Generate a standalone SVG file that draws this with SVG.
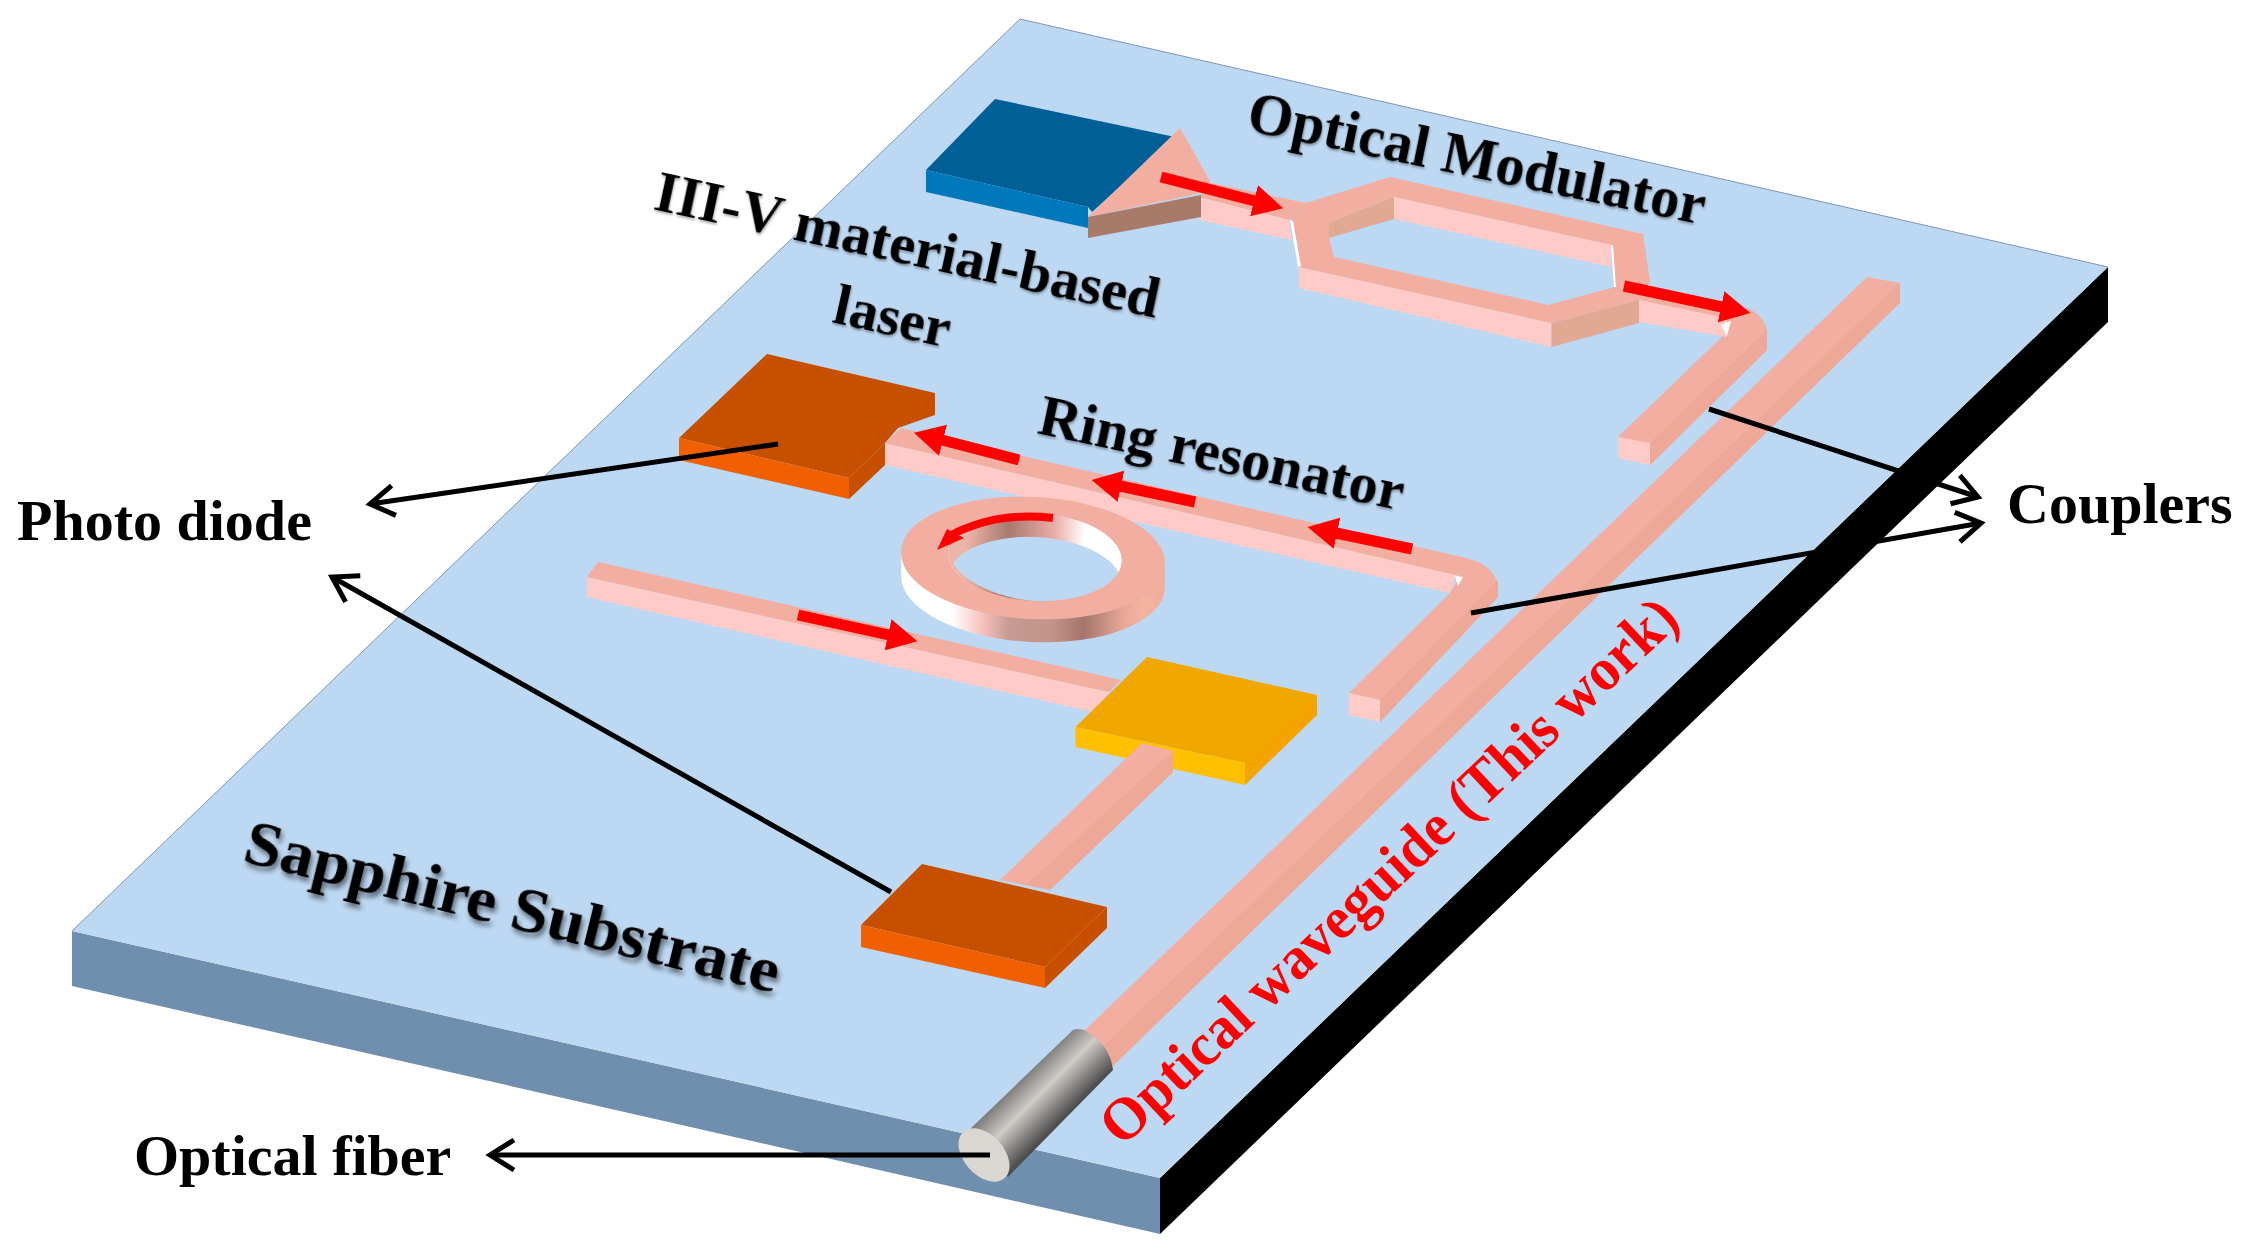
<svg xmlns="http://www.w3.org/2000/svg" width="2246" height="1253" viewBox="0 0 2246 1253">
<style>
.t{fill:#F1AEA1}.s{fill:#FFCBC8}.d{fill:#E1A893}.e{fill:#EEA897}
.lb{font-family:"Liberation Serif","Times New Roman",serif;font-weight:bold;font-size:58px;fill:#000}
.red{stroke:#F00;stroke-width:11;fill:none;marker-end:url(#rh)}
.blk{stroke:#000;stroke-width:5;fill:none;marker-end:url(#bh)}
</style>
<defs>
<marker id="rh" markerUnits="userSpaceOnUse" markerWidth="31" markerHeight="34" refX="1" refY="17" orient="auto"><path d="M0 1L30 17L0 33Z" fill="#F00"/></marker>
<marker id="bh" markerUnits="userSpaceOnUse" markerWidth="36" markerHeight="40" refX="30" refY="20" orient="auto"><path d="M6 5L30 20L6 35" fill="none" stroke="#000" stroke-width="5"/></marker>
<linearGradient id="ro" gradientUnits="userSpaceOnUse" x1="901" y1="0" x2="1165" y2="0"><stop offset="0.2" stop-color="#fff"/><stop offset="0.32" stop-color="#F6C0BC"/><stop offset="0.42" stop-color="#C49A92"/><stop offset="0.58" stop-color="#C49488"/><stop offset="0.7" stop-color="#A5756C"/><stop offset="0.85" stop-color="#E8A898"/><stop offset="0.92" stop-color="#F4B4A2"/><stop offset="1" stop-color="#F1AC9A"/></linearGradient>
<linearGradient id="ri" gradientUnits="userSpaceOnUse" x1="948" y1="0" x2="1122" y2="0"><stop offset="0.1" stop-color="#EDB4A8"/><stop offset="0.34" stop-color="#A87A70"/><stop offset="0.6" stop-color="#E8ACA6"/><stop offset="0.78" stop-color="#fff"/><stop offset="1" stop-color="#fff"/></linearGradient>
<linearGradient id="fb" gradientUnits="userSpaceOnUse" x1="1065" y1="1022" x2="1112" y2="1069"><stop offset="0" stop-color="#5E5E5E"/><stop offset="0.5" stop-color="#CFCBC6"/><stop offset="1" stop-color="#4E4E4E"/></linearGradient>
<clipPath id="hole"><ellipse cx="1035" cy="557" rx="87" ry="44" transform="rotate(3 1035 557)"/></clipPath>
<filter id="sh" x="-5%" y="-20%" width="110%" height="140%"><feDropShadow dx="3" dy="4" stdDeviation="2.5" flood-color="#000" flood-opacity="0.5"/></filter>
<filter id="sh2" x="-5%" y="-20%" width="110%" height="140%"><feDropShadow dx="1" dy="2" stdDeviation="1.2" flood-color="#000" flood-opacity="0.3"/></filter>
</defs>
<rect width="2246" height="1253" fill="#fff"/>

<g id="substrate">
<polygon points="72,931 1160,1178 1160,1234 72,986" fill="#708EAE"/>
<polygon points="1160,1178 2108,267 2108,322 1160,1234" fill="#000"/>
<polygon points="1020,19 2108,267 1160,1178 72,931" fill="#BDD8F2"/>
<path d="M72 931L1020 19L2108 267" fill="none" stroke="#7F96B0" stroke-width="1"/>
</g>

<g id="long-waveguide">
<polygon points="1867,277 1900,283 1113,1062 1083,1032" class="t"/>
<polygon points="1900,283 1900,303 1113,1066 1100,1049" class="e"/>
</g>

<g id="modulator">
<polygon points="1199,197 1288,217 1292,240 1199,220" class="s"/>
<polygon points="1211,183 1306,203 1290,220 1199,197" class="t"/>
<polygon points="1299,267 1551.5,323 1551.5,347 1299,288" class="s"/>
<polygon points="1551.5,323 1639,300 1639,323 1551.5,347" class="d"/>
<path fill-rule="evenodd" class="t" d="M1290.5 220L1306 203L1390 177L1643 234L1650 282L1639 300L1551.5 323L1299 267ZM1329 223L1329 238L1334 257L1548 305L1615 287L1611 245L1394 197Z"/>
<polygon points="1329,223 1394,197 1394,219 1329,238" class="d"/>
<polygon points="1394,197 1611,245 1611,267 1394,219" class="s"/>
<polygon points="1290,220 1293,221 1301,266 1298,267" fill="#fff"/>
<polygon points="1611,245 1613,245 1616,287 1614,287" fill="#fff"/>
</g>

<g id="modulator-output-coupler">
<path d="M1622 283L1740 306Q1762 311 1767 330L1767 350L1650 465L1618 437L1727 332L1639 300Z" class="t"/>
<path d="M1767 330L1767 350L1650 465L1650 443Z" class="e"/>
<polygon points="1618,437 1650,443 1650,465 1618,458" class="s"/>
<polygon points="1639,300 1727,318 1727,337 1639,322" class="s"/>
<polygon points="1721,325 1731,321 1727,336" fill="#fff"/>
</g>

<g id="laser">
<polygon points="995,99 1175,137 1092,212 1088,207 926,170" fill="#005F97"/>
<polygon points="926,170 1088,207 1088,228 926,192" fill="#0078BC"/>
<polygon points="1180,128 1088,217 1201,193 1211,183" class="t"/>
<polygon points="1088,217 1201,195 1201,217 1088,238" fill="#A87A6A"/>
</g>

<g id="photodiode-top">
<polygon points="767,354 935,393 935,415 898,428 885,443 849,478 679,438" fill="#C75000"/>
<polygon points="849,478 885,443 885,465 849,499" fill="#C75000"/>
<polygon points="679,438 849,478 849,499 679,460" fill="#F06000"/>
</g>

<g id="ring-bus">
<polygon points="885,443 1456,575 1450,593 885,465" class="s"/>
<path d="M901 428L1466 558Q1498 566 1498 590L1498 597L1380 722L1380 700L1349,693L1450 593L1460 576L885 443Z" class="t"/>
<path d="M1498 580L1498 597L1380 722L1380 700Z" class="e"/>
<polygon points="1349,693 1380,700 1380,722 1349,715" class="s"/>
<polygon points="1455,576 1463,577 1458,586" fill="#fff"/>
</g>

<g id="input-bus">
<polygon points="587,577 1109,692 1093,712 587,597" class="s"/>
<polygon points="598,562 1121,680 1109,692 587,577" class="t"/>
</g>

<g id="ring">
<ellipse cx="1033" cy="582" rx="132" ry="60" transform="rotate(3 1033 582)" fill="url(#ro)"/>
<polygon points="901.2,551 1164.8,565 1164.8,589 901.2,575" fill="url(#ro)"/>
<ellipse cx="1035" cy="557" rx="87" ry="44" transform="rotate(3 1035 557)" fill="url(#ri)"/>
<ellipse cx="1035" cy="581" rx="87" ry="44" transform="rotate(3 1035 581)" fill="#BDD8F2" clip-path="url(#hole)"/>
<path fill-rule="evenodd" class="t" d="M901.2 551.1A132 60 3 1 1 1164.8 564.9A132 60 3 1 1 901.2 551.1ZM948.1 552.4A87 44 3 1 0 1121.9 561.6A87 44 3 1 0 948.1 552.4Z"/>
</g>

<g id="yellow-block">
<polygon points="1147,657 1317,695 1317,715 1245,763 1075.5,727" fill="#F0A800"/>
<polygon points="1245,763 1317,695 1317,715 1245,785" fill="#F4A400"/>
<polygon points="1075.5,727 1245,763 1245,785 1075.5,747" fill="#FFC000"/>
</g>

<g id="drop-waveguide">
<polygon points="1142,743 1173,751 1173,772 1050,890 1000,880" class="t"/>
<polygon points="1173,751 1173,772 1050,890 1026,885" class="e"/>
</g>

<g id="photodiode-bottom">
<polygon points="922,864 1107,907 1045,967 861,925" fill="#C75000"/>
<polygon points="1107,907 1107,928 1045,988 1045,967" fill="#C75000"/>
<polygon points="861,925 1045,967 1045,988 861,947" fill="#F06000"/>
</g>

<g id="fiber">
<path d="M967 1132L1073 1030Q1082 1027 1090 1034Q1110 1046 1113 1070L1008 1177Z" fill="url(#fb)"/>
<ellipse cx="984" cy="1155" rx="31" ry="20" transform="rotate(48 984 1155)" fill="#DAD6D2"/>
</g>

<g id="connectors">
<path class="red" d="M1161 177L1255 201"/>
<path class="red" d="M1624 286L1722 307"/>
<path class="red" d="M1019 460L942 440"/>
<path class="red" d="M1195 502L1120 486"/>
<path class="red" d="M1412 549L1336 533"/>
<path class="red" d="M798 615L889 635"/>
<path d="M1053 518Q1010 513 975 525T952 541" fill="none" stroke="#F00" stroke-width="8"/>
<polygon points="937,550 947,529 964,538" fill="#F00"/>
<path class="blk" d="M778 444L370 504"/>
<path class="blk" d="M891 892L332 577"/>
<path class="blk" d="M990 1155L490 1155"/>
<path class="blk" d="M1709 409L1978 497"/>
<path class="blk" d="M1471 613L1981 523"/>
</g>

<g id="labels">
<text class="lb" x="17" y="540">Photo diode</text>
<text class="lb" x="134" y="1175">Optical fiber</text>
<text class="lb" x="2007" y="523">Couplers</text>
<text class="lb" filter="url(#sh2)" style="font-size:60px" transform="translate(1245,130) rotate(11.7)" textLength="466" lengthAdjust="spacingAndGlyphs">Optical Modulator</text>
<text class="lb" filter="url(#sh2)" transform="translate(652,209) rotate(12.2)" textLength="515" lengthAdjust="spacingAndGlyphs">III-V material-based</text>
<text class="lb" filter="url(#sh2)" transform="translate(831,322) rotate(12.5)" textLength="118" lengthAdjust="spacingAndGlyphs">laser</text>
<text class="lb" filter="url(#sh2)" transform="translate(1036,433) rotate(12)" textLength="372" lengthAdjust="spacingAndGlyphs">Ring resonator</text>
<text class="lb" filter="url(#sh)" style="font-size:64px" transform="translate(241,861) rotate(13.9)" textLength="549" lengthAdjust="spacingAndGlyphs">Sapphire Substrate</text>
<text class="lb" style="fill:#F00;font-size:60px" transform="translate(1122,1148) rotate(-43.2)" textLength="768" lengthAdjust="spacingAndGlyphs">Optical waveguide (This work)</text>
</g>
</svg>
